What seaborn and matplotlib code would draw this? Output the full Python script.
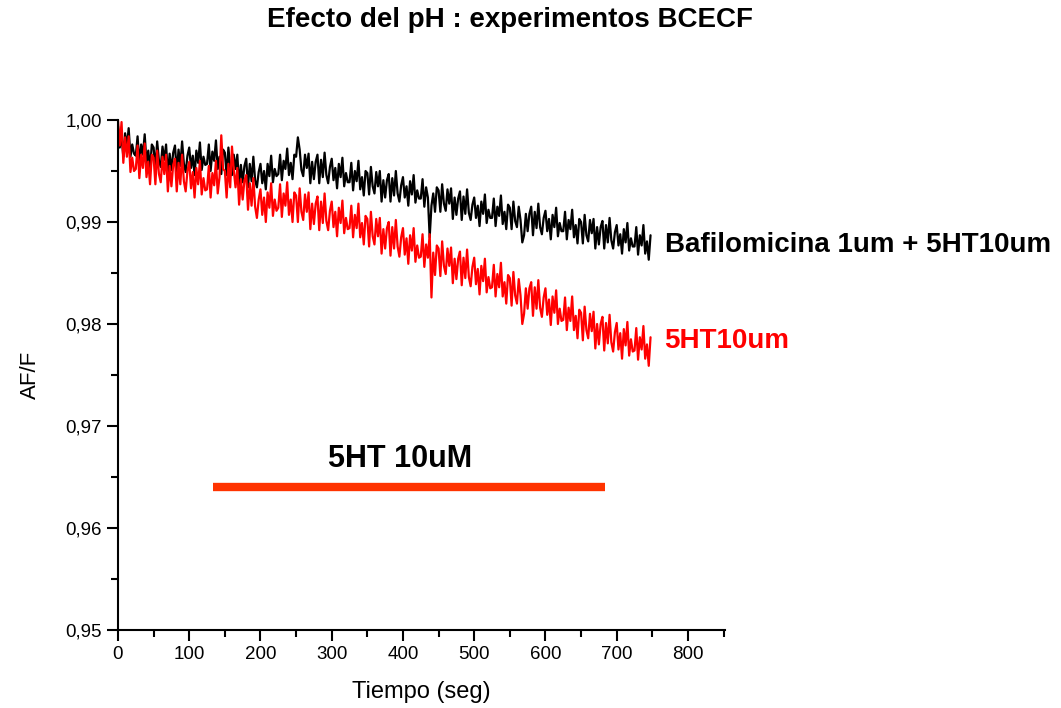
import numpy as np
import matplotlib
matplotlib.use('Agg')
import matplotlib.pyplot as plt
import seaborn as sns
from matplotlib.ticker import MultipleLocator, FuncFormatter

sns.set_theme(style='white')
plt.rcParams['font.family'] = ['Liberation Sans', 'DejaVu Sans']
plt.rcParams['text.color'] = 'black'
plt.rcParams['axes.labelcolor'] = 'black'
plt.rcParams['xtick.color'] = 'black'
plt.rcParams['ytick.color'] = 'black'

# --- data (2.5 s sampling) ---
tiempo = np.arange(0, 750, 2.5)

bafilomicina = [
    0.9994, 0.9973, 0.9984, 0.9964, 0.9987, 0.9974, 0.9992, 0.9964, 0.9976, 0.9967,
    0.9965, 0.9984, 0.9957, 0.9976, 0.9966, 0.9986, 0.9958, 0.9970, 0.9952, 0.9976,
    0.9973, 0.9952, 0.9979, 0.9960, 0.9954, 0.9974, 0.9961, 0.9976, 0.9946, 0.9967,
    0.9951, 0.9968, 0.9975, 0.9948, 0.9971, 0.9955, 0.9979, 0.9957, 0.9949, 0.9965,
    0.9973, 0.9953, 0.9965, 0.9946, 0.9970, 0.9958, 0.9978, 0.9951, 0.9964, 0.9956,
    0.9957, 0.9976, 0.9950, 0.9969, 0.9960, 0.9980, 0.9952, 0.9964, 0.9947, 0.9971,
    0.9968, 0.9946, 0.9973, 0.9953, 0.9946, 0.9966, 0.9952, 0.9966, 0.9936, 0.9956,
    0.9939, 0.9955, 0.9962, 0.9934, 0.9957, 0.9940, 0.9964, 0.9941, 0.9934, 0.9949,
    0.9957, 0.9938, 0.9950, 0.9932, 0.9957, 0.9945, 0.9965, 0.9939, 0.9952, 0.9945,
    0.9947, 0.9966, 0.9941, 0.9960, 0.9952, 0.9972, 0.9946, 0.9958, 0.9942, 0.9966,
    0.9964, 0.9983, 0.9971, 0.9951, 0.9945, 0.9966, 0.9953, 0.9967, 0.9938, 0.9959,
    0.9942, 0.9959, 0.9966, 0.9938, 0.9961, 0.9944, 0.9968, 0.9946, 0.9938, 0.9954,
    0.9962, 0.9941, 0.9953, 0.9933, 0.9957, 0.9944, 0.9963, 0.9935, 0.9948, 0.9939,
    0.9939, 0.9958, 0.9931, 0.9950, 0.9940, 0.9960, 0.9932, 0.9944, 0.9926, 0.9950,
    0.9948, 0.9927, 0.9954, 0.9935, 0.9928, 0.9949, 0.9935, 0.9950, 0.9920, 0.9941,
    0.9924, 0.9941, 0.9947, 0.9920, 0.9943, 0.9926, 0.9950, 0.9928, 0.9920, 0.9936,
    0.9944, 0.9924, 0.9935, 0.9916, 0.9940, 0.9927, 0.9946, 0.9919, 0.9931, 0.9923,
    0.9923, 0.9942, 0.9915, 0.9934, 0.9924, 0.9885, 0.9916, 0.9928, 0.9910, 0.9934,
    0.9931, 0.9910, 0.9937, 0.9918, 0.9911, 0.9932, 0.9918, 0.9933, 0.9903, 0.9924,
    0.9907, 0.9923, 0.9930, 0.9902, 0.9925, 0.9908, 0.9932, 0.9909, 0.9902, 0.9917,
    0.9924, 0.9904, 0.9916, 0.9896, 0.9920, 0.9908, 0.9927, 0.9899, 0.9912, 0.9904,
    0.9904, 0.9923, 0.9896, 0.9915, 0.9906, 0.9926, 0.9898, 0.9910, 0.9893, 0.9917,
    0.9914, 0.9893, 0.9920, 0.9901, 0.9895, 0.9915, 0.9902, 0.9880, 0.9887, 0.9908,
    0.9891, 0.9908, 0.9915, 0.9887, 0.9910, 0.9894, 0.9918, 0.9895, 0.9888, 0.9904,
    0.9911, 0.9891, 0.9903, 0.9883, 0.9907, 0.9895, 0.9914, 0.9886, 0.9899, 0.9891,
    0.9891, 0.9910, 0.9883, 0.9902, 0.9893, 0.9912, 0.9885, 0.9897, 0.9879, 0.9903,
    0.9900, 0.9879, 0.9907, 0.9887, 0.9881, 0.9902, 0.9889, 0.9903, 0.9874, 0.9895,
    0.9878, 0.9895, 0.9901, 0.9874, 0.9897, 0.9880, 0.9904, 0.9882, 0.9874, 0.9890,
    0.9897, 0.9877, 0.9888, 0.9869, 0.9893, 0.9880, 0.9899, 0.9872, 0.9884, 0.9876,
    0.9876, 0.9895, 0.9868, 0.9887, 0.9877, 0.9897, 0.9869, 0.9881, 0.9863, 0.9887,
]

serotonina = [
    1.0000, 0.9975, 0.9998, 0.9958, 0.9983, 0.9964, 0.9984, 0.9949, 0.9963, 0.9950,
    0.9952, 0.9975, 0.9943, 0.9966, 0.9953, 0.9977, 0.9944, 0.9959, 0.9937, 0.9966,
    0.9963, 0.9937, 0.9970, 0.9947, 0.9939, 0.9964, 0.9947, 0.9966, 0.9930, 0.9955,
    0.9935, 0.9956, 0.9962, 0.9930, 0.9958, 0.9937, 0.9966, 0.9940, 0.9930, 0.9950,
    0.9959, 0.9933, 0.9949, 0.9924, 0.9953, 0.9937, 0.9960, 0.9927, 0.9943, 0.9931,
    0.9932, 0.9955, 0.9924, 0.9948, 0.9936, 0.9960, 0.9928, 0.9944, 0.9985, 0.9952,
    0.9950, 0.9924, 0.9957, 0.9934, 0.9974, 0.9951, 0.9934, 0.9953, 0.9917, 0.9942,
    0.9922, 0.9941, 0.9946, 0.9912, 0.9938, 0.9916, 0.9943, 0.9915, 0.9904, 0.9922,
    0.9932, 0.9907, 0.9924, 0.9900, 0.9929, 0.9914, 0.9938, 0.9906, 0.9922, 0.9911,
    0.9914, 0.9937, 0.9905, 0.9928, 0.9916, 0.9939, 0.9907, 0.9922, 0.9900, 0.9929,
    0.9926, 0.9900, 0.9933, 0.9910, 0.9902, 0.9927, 0.9910, 0.9929, 0.9893, 0.9918,
    0.9898, 0.9918, 0.9925, 0.9892, 0.9920, 0.9899, 0.9928, 0.9901, 0.9892, 0.9911,
    0.9920, 0.9895, 0.9910, 0.9886, 0.9914, 0.9899, 0.9921, 0.9889, 0.9904, 0.9893,
    0.9894, 0.9916, 0.9885, 0.9907, 0.9894, 0.9918, 0.9885, 0.9899, 0.9878, 0.9906,
    0.9903, 0.9876, 0.9910, 0.9886, 0.9878, 0.9903, 0.9886, 0.9904, 0.9869, 0.9893,
    0.9874, 0.9894, 0.9900, 0.9867, 0.9895, 0.9874, 0.9902, 0.9876, 0.9866, 0.9885,
    0.9894, 0.9868, 0.9884, 0.9859, 0.9887, 0.9872, 0.9894, 0.9861, 0.9877, 0.9865,
    0.9866, 0.9888, 0.9856, 0.9878, 0.9865, 0.9888, 0.9826, 0.9870, 0.9848, 0.9877,
    0.9874, 0.9847, 0.9881, 0.9857, 0.9849, 0.9874, 0.9857, 0.9875, 0.9840, 0.9864,
    0.9844, 0.9864, 0.9871, 0.9838, 0.9865, 0.9845, 0.9873, 0.9846, 0.9837, 0.9856,
    0.9865, 0.9839, 0.9854, 0.9829, 0.9857, 0.9842, 0.9864, 0.9831, 0.9846, 0.9835,
    0.9836, 0.9858, 0.9827, 0.9849, 0.9836, 0.9860, 0.9827, 0.9841, 0.9820, 0.9848,
    0.9845, 0.9818, 0.9851, 0.9828, 0.9820, 0.9844, 0.9828, 0.9800, 0.9810, 0.9835,
    0.9815, 0.9835, 0.9841, 0.9808, 0.9836, 0.9815, 0.9843, 0.9816, 0.9807, 0.9826,
    0.9835, 0.9809, 0.9824, 0.9799, 0.9827, 0.9811, 0.9833, 0.9800, 0.9815, 0.9803,
    0.9804, 0.9826, 0.9794, 0.9816, 0.9803, 0.9827, 0.9794, 0.9808, 0.9786, 0.9814,
    0.9811, 0.9784, 0.9817, 0.9794, 0.9786, 0.9810, 0.9793, 0.9812, 0.9776, 0.9800,
    0.9780, 0.9800, 0.9807, 0.9774, 0.9801, 0.9781, 0.9809, 0.9782, 0.9773, 0.9792,
    0.9801, 0.9775, 0.9791, 0.9766, 0.9795, 0.9779, 0.9802, 0.9769, 0.9785, 0.9773,
    0.9774, 0.9796, 0.9765, 0.9787, 0.9775, 0.9798, 0.9766, 0.9780, 0.9759, 0.9787,
]

# 5HT application bar (seconds) and its level
aplicacion = [133, 684]
nivel_barra = 0.9640

# --- figure ---
fig = plt.figure(figsize=(10.61, 7.08), dpi=100)
ax = fig.add_axes([0.1112, 0.1102, 0.5721, 0.7203])

sns.lineplot(x=tiempo, y=bafilomicina, ax=ax, color='black', linewidth=1.6)
sns.lineplot(x=tiempo, y=serotonina, ax=ax, color='#FF0000', linewidth=1.6)

ax.plot(aplicacion, [nivel_barra, nivel_barra], color='#FF3300', linewidth=6,
        solid_capstyle='butt')
ax.text(sum(aplicacion) / 2 - 12, 0.9668, '5HT 10uM', fontsize=22,
        fontweight='bold', ha='center', va='center')

ax.text(768, 0.98775, 'Bafilomicina 1um + 5HT10um', fontsize=20,
        fontweight='bold', ha='left', va='center', clip_on=False)
ax.text(767, 0.97833, '5HT10um', fontsize=20, fontweight='bold',
        color='#FF0000', ha='left', va='center', clip_on=False)

ax.set_xlim(0, 852)
ax.set_ylim(0.95, 1.00)
ax.xaxis.set_major_locator(MultipleLocator(100))
ax.xaxis.set_minor_locator(MultipleLocator(50))
ax.yaxis.set_major_locator(MultipleLocator(0.01))
ax.yaxis.set_minor_locator(MultipleLocator(0.005))
ax.yaxis.set_major_formatter(FuncFormatter(lambda v, p: f'{v:.2f}'.replace('.', ',')))
ax.set_xticks([0, 100, 200, 300, 400, 500, 600, 700, 800])

for s in ['top', 'right']:
    ax.spines[s].set_visible(False)
for s in ['left', 'bottom']:
    ax.spines[s].set_linewidth(1.5)
    ax.spines[s].set_color('black')

ax.tick_params(which='major', direction='out', length=8, width=1.5,
               labelsize=13.5, color='black', bottom=True, left=True)
ax.tick_params(which='minor', direction='out', length=5, width=1.5,
               color='black', bottom=True, left=True)

ax.set_xlabel('Tiempo (seg)', fontsize=17, labelpad=13)
ax.set_ylabel('AF/F', fontsize=16, labelpad=18)

fig.text(0.481, 0.972, 'Efecto del pH : experimentos BCECF', fontsize=20,
         fontweight='bold', ha='center', va='center')

plt.savefig('out.png', dpi=100)
plt.close()
